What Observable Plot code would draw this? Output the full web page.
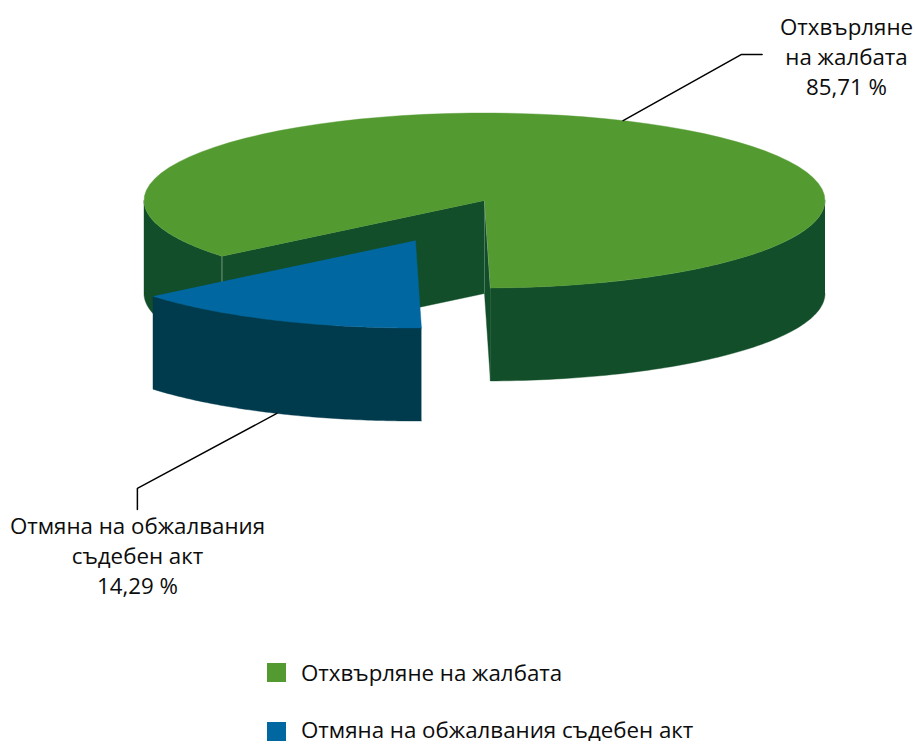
<!DOCTYPE html>
<html lang="bg">
<head>
<meta charset="utf-8">
<script src="https://cdn.jsdelivr.net/npm/d3@7"></script>
<script src="https://cdn.jsdelivr.net/npm/@observablehq/plot@0.6"></script>
<style>
  html, body { margin: 0; padding: 0; background: #fff; }
  body { width: 915px; font-family: "Open Sans", sans-serif; color: #0c0c0c; }
  #legend { padding: 13px 0 0 267px; }
  .row { display: flex; align-items: center; height: 19px; margin-bottom: 40px; font-size: 22.3px; line-height: 19px; white-space: nowrap; }
  .row:last-child { margin-bottom: 0; }
  .row:last-child .tx { position: relative; top: -2px; }
  .sw { width: 19px; height: 19px; margin-right: 15px; flex: none; }
</style>
</head>
<body>
<div id="chart"></div>
<div id="legend"></div>
<script>
// Data
const categories = ["Отхвърляне на жалбата", "Отмяна на обжалвания съдебен акт"];
const shares = [85.71, 14.29];
const shareLabels = ["85,71 %", "14,29 %"];
const labelLines = [["Отхвърляне", "на жалбата"], ["Отмяна на обжалвания", "съдебен акт"]];

// Colours
const topColors = ["#539a31", "#0067a0"];
const sideColors = ["#124e29", "#003a4d"];
const seamColor = "#9db8a2";

// Pie layout
const W = 915, H = 650;
const cx = 484, cy = 200, rx = 340.5, ry = 87.5, depth = 93;
const explode = {dx: -69, dy: 40};
const startAngle = 89; // where the smaller slice begins (degrees, clockwise from 3 o'clock)
const fontSize = 22.3;

const rad = (a) => a * Math.PI / 180;
const rim = (a, o = {dx: 0, dy: 0}, drop = 0) => ({
  x: cx + o.dx + rx * Math.cos(rad(a)),
  y: cy + o.dy + ry * Math.sin(rad(a)) + drop
});
const arc = (a0, a1, o, drop) => d3.range(0, 1.0001, 1 / 80).map((t) => rim(a0 + (a1 - a0) * t, o, drop));
const shell = (a0, a1, o) => [...arc(a0, a1, o, 0), ...arc(a0, a1, o, depth).reverse()];

const smallEnd = startAngle + shares[1] * 3.6;
const bigStart = smallEnd, bigEnd = startAngle + 360;
const apex = {x: cx, y: cy};
const apexLow = {x: cx, y: cy + depth};
const apexBlue = {x: cx + explode.dx, y: cy + explode.dy};

const polygon = (points, fill) =>
  Plot.line(points, {x: "x", y: "y", fill, stroke: fill, strokeWidth: 0.4, curve: "linear"});
const seam = (points, strokeWidth = 0.7) =>
  Plot.line(points, {x: "x", y: "y", stroke: seamColor, strokeWidth});

// Leader lines start at the rim middle of each slice
const midBig = rim((bigStart + bigEnd) / 2 - 0.7);
const midSmall = rim((startAngle + smallEnd) / 2 - 0.7, explode, depth);
const leaderBig = [midBig, {x: midBig.x + 118, y: midBig.y - 66}, {x: midBig.x + 139, y: midBig.y - 66}];
const leaderSmall = [midSmall, {x: midSmall.x - 139.5, y: midSmall.y + 75}, {x: midSmall.x - 139.5, y: midSmall.y + 96}];

const labels = [
  {x: 846, y: 54.5, text: [...labelLines[0], shareLabels[0]].join("\n")},
  {x: 137, y: 554, text: [...labelLines[1], shareLabels[1]].join("\n")}
];

const chart = Plot.plot({
  width: W, height: H, margin: 0,
  x: {domain: [0, W], range: [0, W], axis: null},
  y: {domain: [0, H], range: [0, H], axis: null},
  style: {background: "#fff", fontFamily: "'Open Sans', sans-serif", display: "block"},
  marks: [
    // large slice: outer wall, inner walls, top
    polygon(shell(bigStart, 180), sideColors[0]),
    polygon(shell(360, bigEnd), sideColors[0]),
    polygon([apex, rim(bigStart), rim(bigStart, undefined, depth), apexLow], sideColors[0]),
    polygon([apex, rim(startAngle), rim(startAngle, undefined, depth), apexLow], sideColors[0]),
    seam([rim(bigStart), rim(bigStart, undefined, depth)]),
    seam([apex, rim(startAngle)]),
    polygon([apex, ...arc(bigStart, bigEnd)], topColors[0]),
    // small slice, pulled out
    polygon(shell(startAngle, smallEnd, explode), sideColors[1]),
    polygon([apexBlue, ...arc(startAngle, smallEnd, explode)], topColors[1]),
    // leaders
    Plot.line(leaderBig, {x: "x", y: "y", stroke: "#000", strokeWidth: 1.5}),
    Plot.line(leaderSmall, {x: "x", y: "y", stroke: "#000", strokeWidth: 1.5}),
    // labels
    Plot.text(labels, {
      x: "x", y: "y", text: "text", fontSize, lineHeight: 30 / fontSize,
      textAnchor: "middle", fill: "#0c0c0c", stroke: "none"
    })
  ]
});
document.getElementById("chart").appendChild(chart);

const legend = document.getElementById("legend");
categories.forEach((name, i) => {
  const row = document.createElement("div");
  row.className = "row";
  const sw = document.createElement("span");
  sw.className = "sw";
  sw.style.background = topColors[i];
  const tx = document.createElement("span");
  tx.className = "tx";
  tx.textContent = name;
  row.append(sw, tx);
  legend.append(row);
});
</script>
</body>
</html>
